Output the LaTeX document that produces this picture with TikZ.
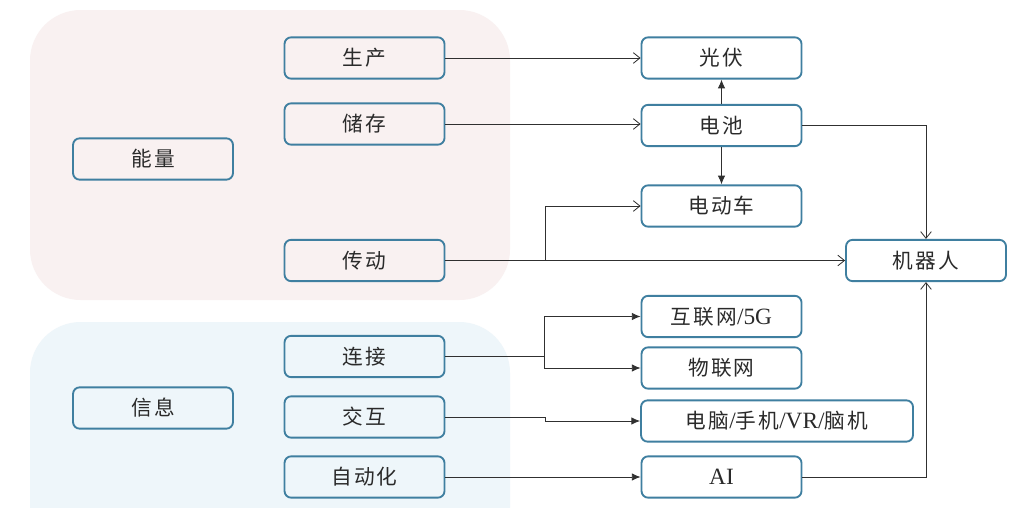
\documentclass[tikz,border=0pt]{standalone}
\usepackage{fontspec}
\setmainfont{Liberation Serif}
\newfontfamily\cjk[LetterSpace=10]{Noto Sans CJK SC}
\usetikzlibrary{arrows.meta}
\definecolor{boxc}{HTML}{3F7FA0}
\definecolor{txt}{HTML}{2A2A2A}
\definecolor{pinkbg}{HTML}{F9F1F1}
\definecolor{bluebg}{HTML}{EEF6FA}
\definecolor{linec}{HTML}{303030}
\newcommand{\lat}[1]{{\fontsize{17.5}{18}\selectfont #1}}
\tikzset{
  box/.style={draw=boxc, line width=1.4pt, rounded corners=5pt, minimum width=120pt,
    minimum height=31pt, inner sep=0pt, text=txt, font=\fontsize{15.5}{18}\selectfont},
  widebox/.style={box, minimum width=204pt},
  arrO/.style={draw=linec, line width=0.6pt, -{Straight Barb[length=5pt,width=8pt]}},
  arrF/.style={draw=linec, line width=0.6pt, -{Latex[length=6.5pt,width=5.5pt]}},
  stem/.style={draw=linec, line width=1pt},
}
\begin{document}
\begin{tikzpicture}[x=0.75pt,y=-0.75pt]
\clip (0,0) rectangle (1024,507);
\fill[white] (0,0) rectangle (1024,507);
\fill[pinkbg, rounded corners=38pt] (30,10) rectangle (510,300);
\fill[bluebg, rounded corners=38pt] (30,322) rectangle (510,560);

\node[box] (nl) at (153,159) {\cjk 能量};
\node[box] (xx) at (153,408) {\cjk 信息};
\node[box] (sc) at (364.5,58) {\cjk 生产};
\node[box] (cc) at (364.5,124) {\cjk 储存};
\node[box] (cd) at (364.5,260.5) {\cjk 传动};
\node[box] (lj) at (364.5,356.5) {\cjk 连接};
\node[box] (jh) at (364.5,417) {\cjk 交互};
\node[box] (zd) at (364.5,477) {\cjk 自动化};

\node[box] (gf) at (721.5,58) {\cjk 光伏};
\node[box] (dc) at (721.5,125.5) {\cjk 电池};
\node[box] (ddc) at (721.5,206) {\cjk 电动车};
\node[box] (hlw) at (721.5,316.5) {{\cjk 互联网}\lat{/5G}};
\node[box] (wlw) at (721.5,368) {\cjk 物联网};
\node[widebox] (dn) at (777,421) {{\cjk 电脑}\lat{/}{\cjk 手机}\lat{/VR/}{\cjk 脑机}};
\node[box] (ai) at (721.5,477) {\lat{AI}};
\node[box] (jqr) at (926,260.5) {\cjk 机器人};

\coordinate (j1) at (545,260.5);
\coordinate (j2) at (544,356.5);
\coordinate (j3) at (545,417);

\draw[arrO] (sc.east) -- (gf.west);
\draw[arrO] (cc.east) -- (cc.east -| dc.west);
\draw[arrF] (dc.north) -- (gf.south);
\draw[arrF] (dc.south) -- (ddc.north);
\draw[arrO] (dc.east) -| (jqr.north);
\draw[stem] (cd.east) -- (j1);
\draw[arrO] (j1) |- (ddc.west);
\draw[arrO] (j1) -- (jqr.west);
\draw[stem] (lj.east) -- (j2);
\draw[arrF] (j2) |- (hlw.west);
\draw[arrF] (j2) |- (wlw.west);
\draw[arrF] (jh.east) -- (j3) |- (dn.west);
\draw[arrF] (zd.east) -- (ai.west);
\draw[arrO] (ai.east) -| (jqr.south);
\end{tikzpicture}
\end{document}
